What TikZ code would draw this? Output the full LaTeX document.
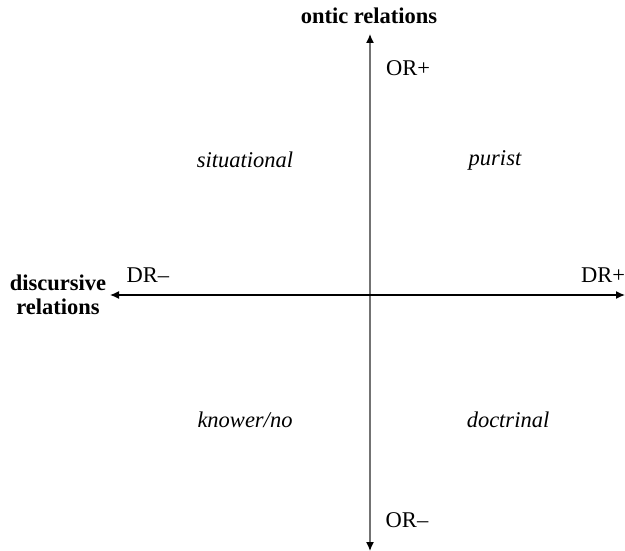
\documentclass[tikz,border=0pt]{standalone}
\usepackage{fontspec}
\setmainfont{Liberation Serif}
\usetikzlibrary{arrows.meta}
\begin{document}
\begin{tikzpicture}[x=1pt,y=-1pt,
  axis/.style={line width=1.4pt,-{Latex[length=9pt,width=8pt,color=black]}},
  lab/.style={font=\fontsize{22.5}{24}\selectfont},
  ttl/.style={font=\fontsize{22.5}{24}\selectfont\bfseries,align=center},
  quad/.style={font=\fontsize{22.5}{24}\selectfont\itshape}]
\useasboundingbox (0,0) rectangle (625,551);
\coordinate (top) at (370,34);
\coordinate (bot) at (370,551);
\coordinate (lft) at (110,295);
\coordinate (rgt) at (625,295);
\coordinate (mid) at (370,295);
\draw[axis,draw=black!55] (mid) -- (top);
\draw[axis,draw=black!55] (mid) -- (bot);
\draw[axis] (mid) -- (lft);
\draw[axis] (mid) -- (rgt);
\node[ttl,inner sep=0pt] (ontic) at (369,16) {ontic relations};
\node[ttl,inner sep=0pt] (disc) at (58,295) {discursive\\relations};
\node[lab] (orp) at (408,68) {OR+};
\node[lab] (orm) at (407,520) {OR–};
\node[lab] (drm) at (148,275) {DR–};
\node[lab] (drp) at (603,275) {DR+};
\node[quad] (sit) at (245,160) {situational};
\node[quad] (pur) at (495,160) {purist};
\node[quad] (kno) at (245,420) {knower/no};
\node[quad] (doc) at (508,420) {doctrinal};
\end{tikzpicture}
\end{document}
